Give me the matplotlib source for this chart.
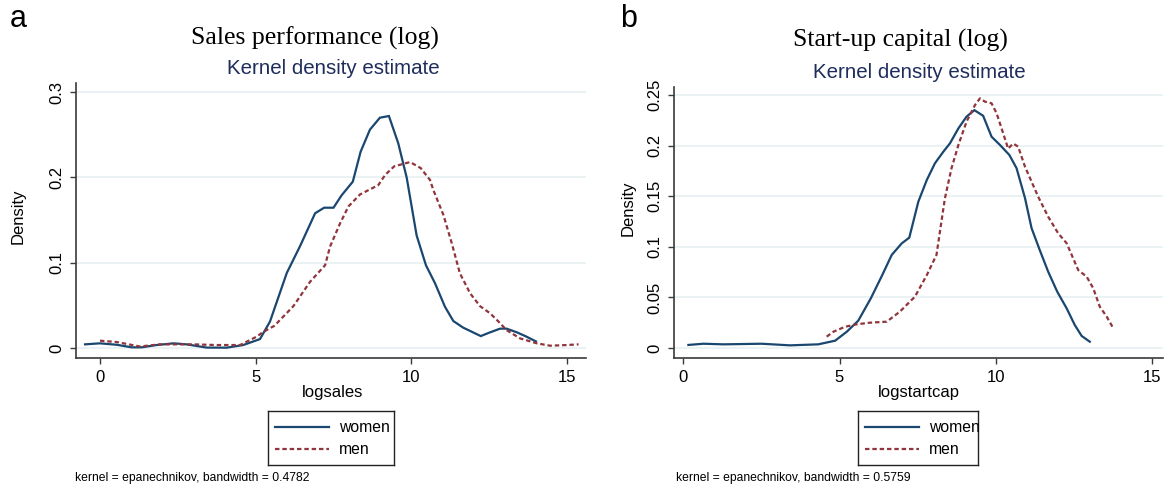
import matplotlib
matplotlib.use("Agg")
import matplotlib.pyplot as plt
from matplotlib.lines import Line2D

# ---------------- data ----------------
sales_women_x = [-0.48, 0.0, 0.54, 1.02, 1.34, 1.82, 2.36, 2.78, 3.43, 4.07, 4.6, 5.14, 5.46, 6.0, 6.42,
                 6.91, 7.2, 7.5, 7.76, 8.12, 8.37, 8.67, 8.99, 9.28, 9.58, 9.85, 10.01, 10.17, 10.47,
                 10.76, 11.08, 11.35, 11.67, 11.94, 12.23, 12.53, 12.85, 13.06, 13.39, 13.7, 14.0]
sales_women_y = [0.0043, 0.0055, 0.0038, 0.0008, 0.0008, 0.0035, 0.0055, 0.0043, 0.0005, 0.0004, 0.0035,
                 0.0105, 0.031, 0.088, 0.119, 0.158, 0.1645, 0.1645, 0.179, 0.195, 0.230, 0.256, 0.270,
                 0.272, 0.240, 0.200, 0.166, 0.132, 0.097, 0.076, 0.0484, 0.0316, 0.0238, 0.0191, 0.014,
                 0.0184, 0.0227, 0.0227, 0.0184, 0.0133, 0.0078]
sales_men_x = [0.0, 0.54, 1.28, 1.93, 3.0, 3.75, 4.5, 4.71, 5.03, 5.25, 5.6, 6.21, 6.75, 7.23, 7.39, 7.71,
               7.98, 8.35, 8.78, 8.94, 9.16, 9.45, 9.96, 10.3, 10.6, 10.71, 11.03, 11.3, 11.56, 11.89,
               12.21, 12.53, 12.8, 13.06, 13.49, 14.03, 14.46, 14.99, 15.37]
sales_men_y = [0.0086, 0.0070, 0.0018, 0.0043, 0.0043, 0.0035, 0.0035, 0.0074, 0.0133, 0.019, 0.026,
               0.049, 0.0778, 0.097, 0.119, 0.146, 0.166, 0.180, 0.188, 0.191, 0.203, 0.213, 0.218,
               0.211, 0.197, 0.185, 0.156, 0.1227, 0.0875, 0.064, 0.049, 0.0407, 0.031, 0.021, 0.0113,
               0.0055, 0.0027, 0.0035, 0.0043]

cap_women_x = [0.17, 0.65, 1.29, 2.51, 3.42, 4.32, 4.86, 5.23, 5.6, 6.0, 6.35, 6.67, 6.99, 7.23, 7.52,
               7.79, 8.05, 8.32, 8.53, 8.8, 9.06, 9.31, 9.59, 9.86, 10.13, 10.43, 10.66, 10.93, 11.14,
               11.4, 11.67, 11.96, 12.26, 12.52, 12.74, 13.0]
cap_women_y = [0.003, 0.0042, 0.0036, 0.0042, 0.0026, 0.0036, 0.0072, 0.016, 0.027, 0.049, 0.071, 0.092,
               0.1034, 0.109, 0.1446, 0.166, 0.1825, 0.194, 0.2022, 0.217, 0.2286, 0.235, 0.2295, 0.2088,
               0.2006, 0.1907, 0.1776, 0.148, 0.1183, 0.0968, 0.0754, 0.0556, 0.0392, 0.0227, 0.0119,
               0.0062]
cap_men_x = [4.59, 4.8, 5.18, 5.55, 5.97, 6.51, 6.93, 7.41, 7.79, 8.1, 8.21, 8.37, 8.58, 8.8, 9.06, 9.33,
             9.49, 9.65, 9.86, 10.02, 10.18, 10.39, 10.55, 10.71, 10.93, 11.14, 11.35, 11.67, 11.99,
             12.26, 12.63, 12.9, 13.11, 13.32, 13.54, 13.75]
cap_men_y = [0.0112, 0.016, 0.021, 0.0234, 0.025, 0.026, 0.0359, 0.0507, 0.072, 0.092, 0.115, 0.148,
             0.1776, 0.2006, 0.2236, 0.240, 0.2467, 0.2434, 0.2418, 0.232, 0.217, 0.197, 0.202, 0.199,
             0.179, 0.1643, 0.1495, 0.1297, 0.1133, 0.1035, 0.077, 0.0705, 0.059, 0.0408, 0.031, 0.0195]

sales_yticks = [0, 0.1, 0.2, 0.3]
sales_yticklabels = ["0", "0.1", "0.2", "0.3"]
cap_yticks = [0, 0.05, 0.1, 0.15, 0.2, 0.25]
cap_yticklabels = ["0", "0.05", "0.1", "0.15", "0.2", "0.25"]
xticks = [0, 5, 10, 15]
series_labels = ["women", "men"]

# ---------------- style ----------------
NAVY = "#1a476f"
MAROON = "#90353b"
SUB = "#1f2d5c"
GRID = "#e8f0f2"
SPINE = "#3a3a3a"
plt.rcParams["font.family"] = ["Liberation Sans", "DejaVu Sans"]

W, H = 1166, 488
fig = plt.figure(figsize=(W / 100, H / 100), dpi=100)


def fx(px):
    return px / W


def fy(py):
    return 1 - py / H


def make_panel(ax_px, xlim, ylim, yticks, yticklabels, wx, wy, mx, my,
               letter, letter_px, title, title_px, sub_px, xlabel, xlabel_px,
               ylabel_px, legend_px, note, note_px):
    l, t, r, b = ax_px
    ax = fig.add_axes([fx(l), fy(b), (r - l) / W, (b - t) / H])
    ax.set_xlim(*xlim)
    ax.set_ylim(*ylim)
    for yv in yticks:
        ax.axhline(yv, color=GRID, lw=1.2, zorder=0)
    ax.plot(wx, wy, color=NAVY, lw=1.6, solid_joinstyle="miter", zorder=3)
    ax.plot(mx, my, color=MAROON, lw=1.6, dashes=(2.0, 1.3), zorder=3)
    ax.set_xticks(xticks)
    ax.set_xticklabels([str(v) for v in xticks])
    ax.set_yticks(yticks)
    ax.set_yticklabels(yticklabels, rotation=90, va="center")
    ax.tick_params(axis="both", direction="out", length=4.5, width=1.0, color=SPINE,
                   labelsize=12, pad=4)
    ax.spines["top"].set_visible(False)
    ax.spines["right"].set_visible(False)
    for s in ("left", "bottom"):
        ax.spines[s].set_color(SPINE)
        ax.spines[s].set_linewidth(1.2)
    ax.set_facecolor("white")

    fig.text(fx(letter_px[0]), fy(letter_px[1]), letter, fontsize=22, ha="center", va="center")
    fig.text(fx(title_px[0]), fy(title_px[1]), title, fontsize=18.5, ha="center", va="center",
             family=["Liberation Serif", "DejaVu Serif"])
    fig.text(fx(sub_px[0]), fy(sub_px[1]), "Kernel density estimate", fontsize=14.8,
             ha="center", va="center", color=SUB)
    fig.text(fx(xlabel_px[0]), fy(xlabel_px[1]), xlabel, fontsize=12, ha="center", va="center")
    fig.text(fx(ylabel_px[0]), fy(ylabel_px[1]), "Density", fontsize=12, ha="center",
             va="center", rotation=90)
    fig.text(fx(note_px[0]), fy(note_px[1]), note, fontsize=8.7, ha="left", va="center")

    # legend box
    ll, lt, lr, lb = legend_px
    lax = fig.add_axes([fx(ll), fy(lb), (lr - ll) / W, (lb - lt) / H])
    lax.set_xlim(0, lr - ll)
    lax.set_ylim(lb - lt, 0)
    lax.set_xticks([])
    lax.set_yticks([])
    for s in lax.spines.values():
        s.set_color("#222222")
        s.set_linewidth(1.0)
    rows = [16, 38]
    lax.add_line(Line2D([7, 61], [rows[0], rows[0]], color=NAVY, lw=1.6))
    lax.add_line(Line2D([7, 61], [rows[1], rows[1]], color=MAROON, lw=1.6, dashes=(2.0, 1.3)))
    lax.text(71, rows[0], series_labels[0], fontsize=11.3, va="center", ha="left")
    lax.text(71, rows[1], series_labels[1], fontsize=11.3, va="center", ha="left")
    return ax


make_panel(ax_px=(76, 83, 586, 358), xlim=(-0.77, 15.61), ylim=(-0.0117, 0.3107),
           yticks=sales_yticks, yticklabels=sales_yticklabels,
           wx=sales_women_x, wy=sales_women_y, mx=sales_men_x, my=sales_men_y,
           letter="a", letter_px=(18, 19), title="Sales performance (log)", title_px=(315, 38),
           sub_px=(333, 68), xlabel="logsales", xlabel_px=(333, 393), ylabel_px=(18, 216),
           legend_px=(268, 411, 394, 465), note="kernel = epanechnikov, bandwidth = 0.4782",
           note_px=(75, 478))

make_panel(ax_px=(674, 87, 1163, 358), xlim=(-0.29, 15.34), ylim=(-0.0099, 0.2579),
           yticks=cap_yticks, yticklabels=cap_yticklabels,
           wx=cap_women_x, wy=cap_women_y, mx=cap_men_x, my=cap_men_y,
           letter="b", letter_px=(629, 19), title="Start-up capital (log)", title_px=(900, 40),
           sub_px=(919, 72), xlabel="logstartcap", xlabel_px=(919, 393), ylabel_px=(628, 208),
           legend_px=(858, 411, 978, 465), note="kernel = epanechnikov, bandwidth = 0.5759",
           note_px=(676, 478))

fig.savefig("out.png", dpi=100, facecolor="white")
